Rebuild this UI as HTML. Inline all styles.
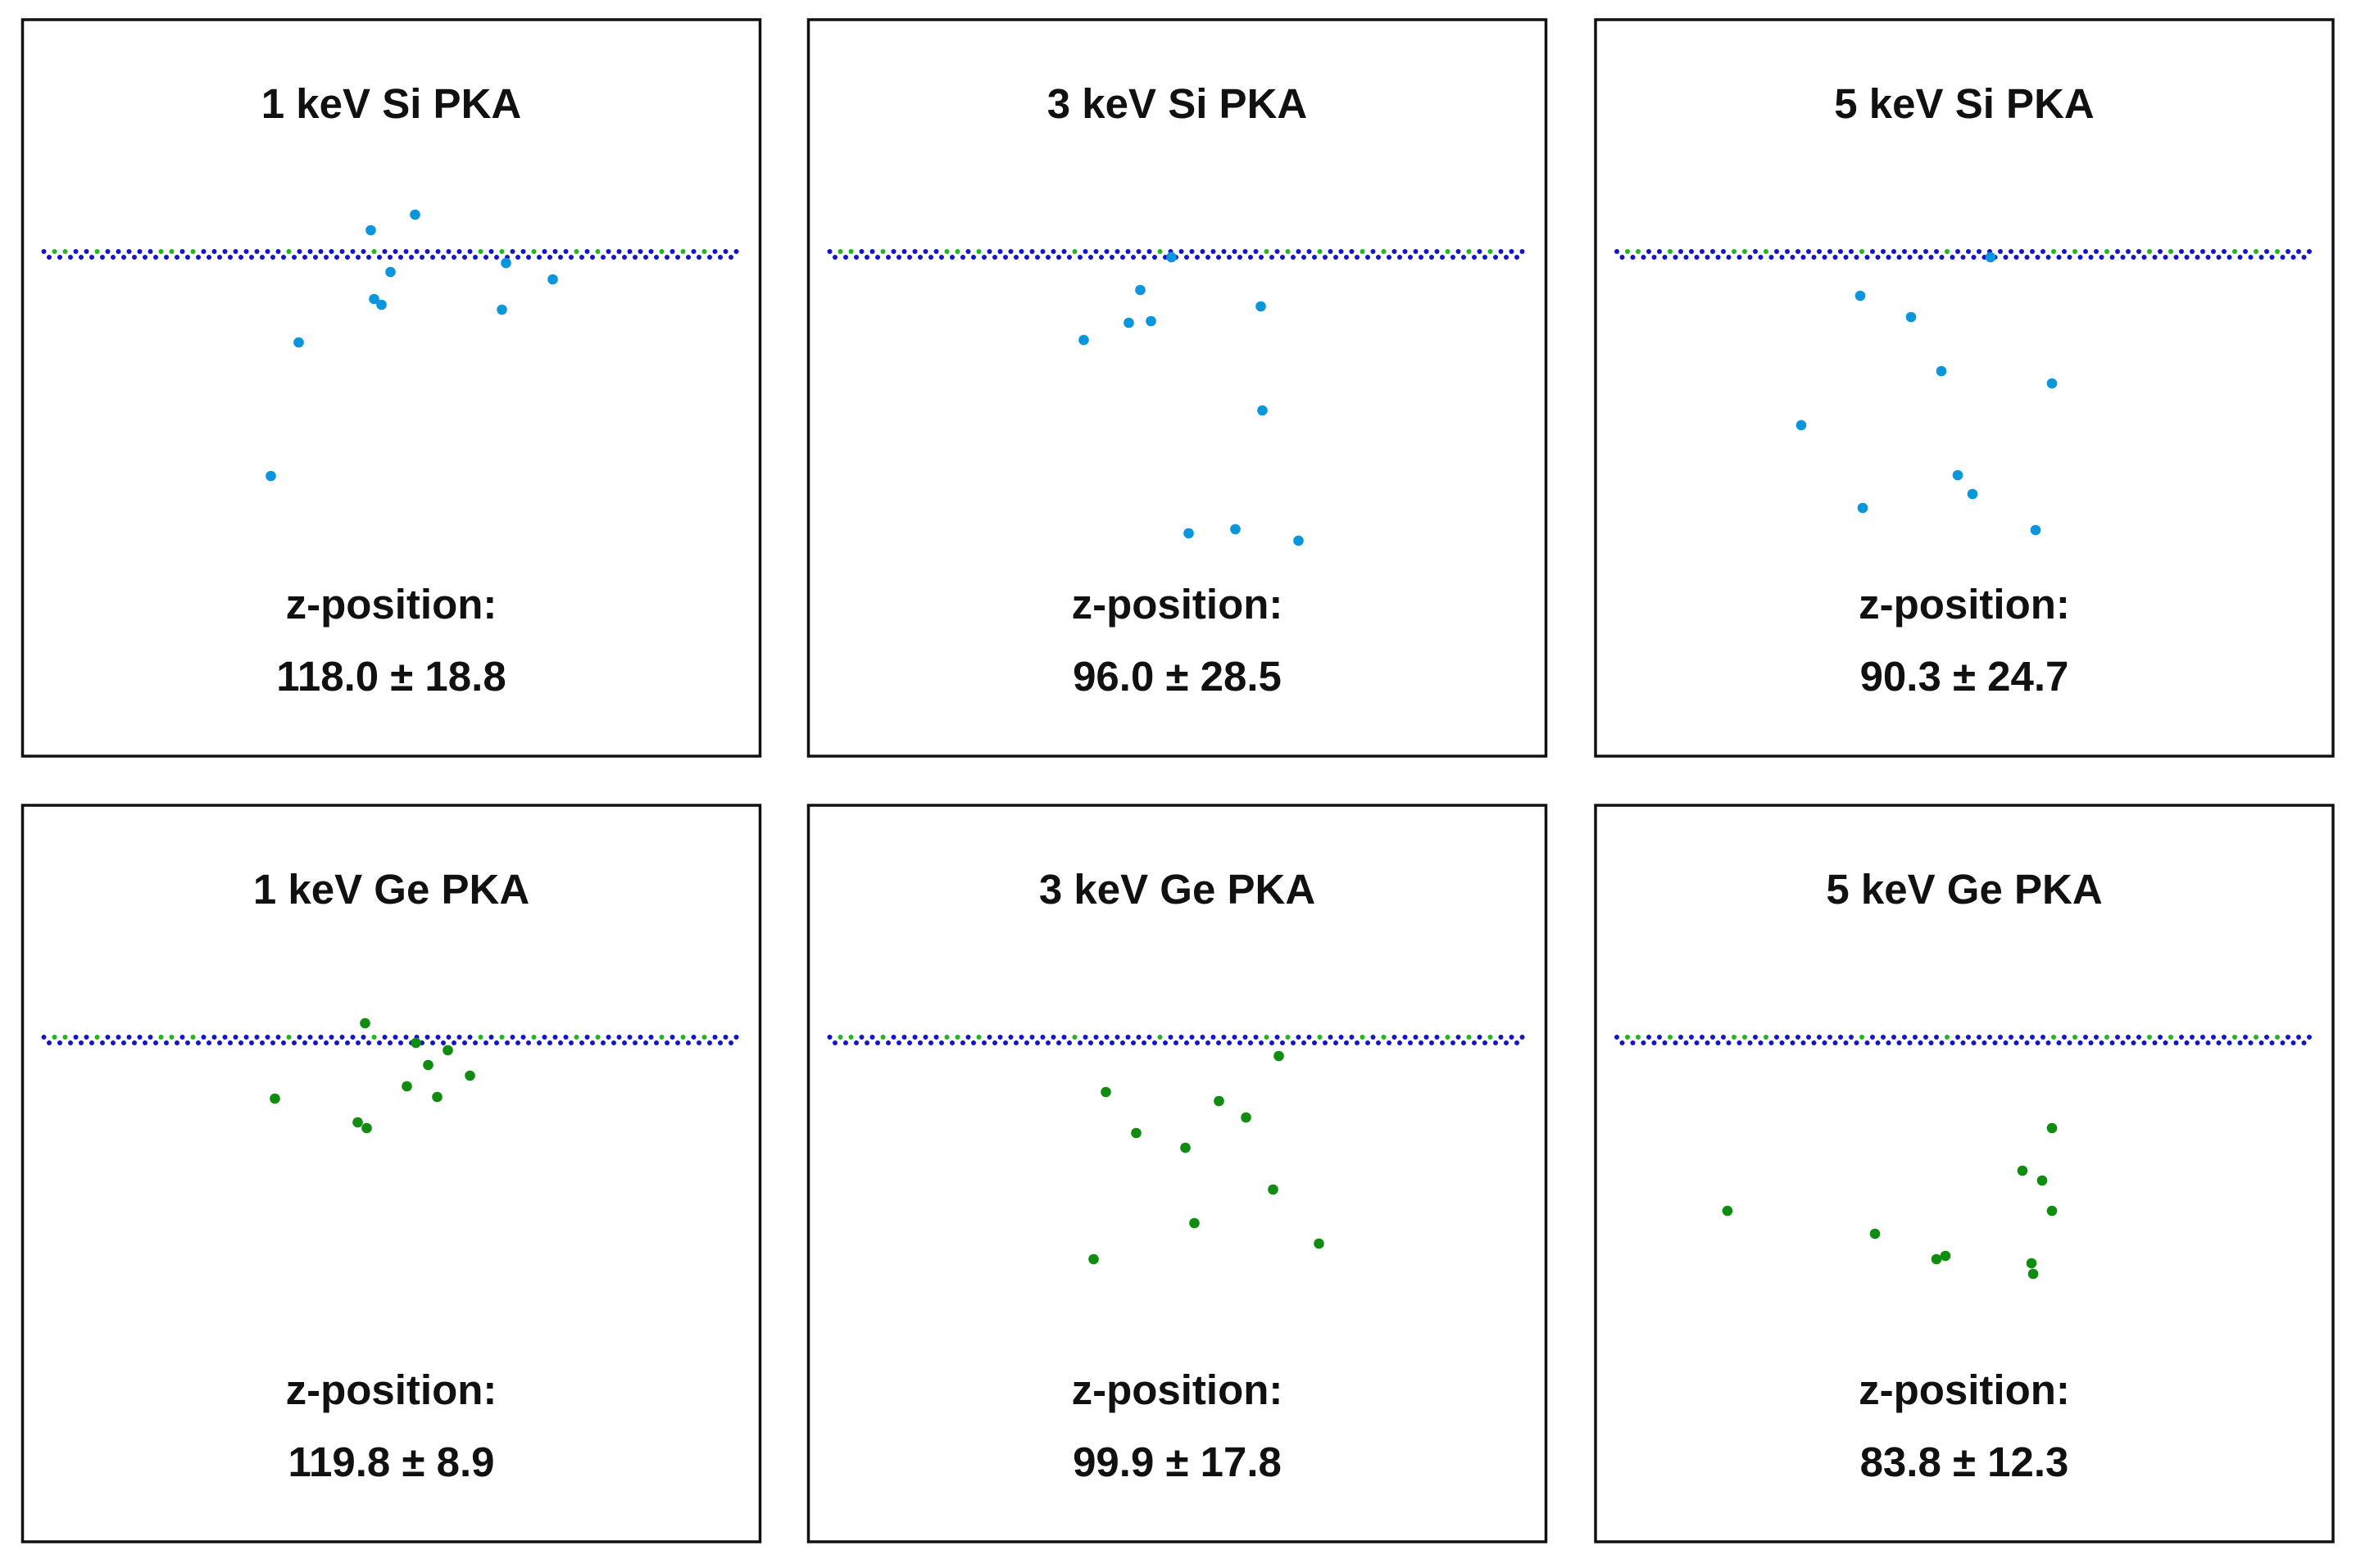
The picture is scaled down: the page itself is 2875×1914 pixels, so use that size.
<!DOCTYPE html>
<html><head><meta charset="utf-8">
<style>
html,body{margin:0;padding:0;background:#fff;}
svg{display:block;}
text{font-family:"Liberation Sans",Arial,sans-serif;font-weight:bold;fill:#111;}
</style></head>
<body>
<svg id="fig" width="2875" height="1914" viewBox="0 0 2875 1914" xmlns="http://www.w3.org/2000/svg"></svg>
<script>
// Panel data (positions in panel-relative units: x across, z = depth)
const titles = ["1 keV Si PKA","3 keV Si PKA","5 keV Si PKA","1 keV Ge PKA","3 keV Ge PKA","5 keV Ge PKA"];
const zValues = ["118.0 ± 18.8","96.0 ± 28.5","90.3 ± 24.7","119.8 ± 8.9","99.9 ± 17.8","83.8 ± 12.3"];
const species = ["Si","Si","Si","Ge","Ge","Ge"];
const p1x = [425,479,449,429,438,337,303,590,585,647];
const p1z = [257,238,308,341,348,394,557,297,354,317];
const p2x = [443,405,391,418,336,552,554,464,521,598];
const p2z = [290,330,370,368,391,350,477,627,622,636];
const p3x = [482,323,385,422,557,251,442,460,326,537];
const p3z = [290,337,363,429,444,495,556,579,596,623];
const p4x = [418,480,519,495,546,469,506,308,409,420];
const p4z = [266,290,299,317,330,343,356,358,387,394];
const p5x = [574,363,501,534,400,460,567,471,623,348];
const p5z = [306,350,361,381,400,418,469,510,535,554];
const p6x = [557,521,545,557,161,341,427,416,532,534];
const p6z = [394,446,458,495,495,523,550,554,559,572];
const xs = [p1x,p2x,p3x,p4x,p5x,p6x];
const zs = [p1z,p2z,p3z,p4z,p5z,p6z];
// lattice green-atom indices (top row)
const greenIdx = [1,2,5,11,12,14,23,31,41,43,46,50,52,58,60,62];

const svg = document.getElementById('fig');
const NS = "http://www.w3.org/2000/svg";
const colLeft = [27.5,986.5,1947];
const rowTop = [24,983];
const PW = 900, PH = 899;
function mk(tag, attrs, parent){const e=document.createElementNS(NS,tag);for(const k in attrs)e.setAttribute(k,attrs[k]);parent.appendChild(e);return e;}
function sx(ox,v){return ox+v;}
function sz(oy,v){return oy+v;}

for(let p=0;p<6;p++){
  const ox = colLeft[p%3], oy = rowTop[Math.floor(p/3)];
  const g = mk('g',{},svg);
  
  
  const r = mk('rect',{x:ox,y:oy,width:PW,height:PH,fill:'#fff',stroke:'#111','stroke-width':3.5},g);
  
  
  const t = mk('text',{x:ox+PW/2,y:oy+120,'text-anchor':'middle','font-size':51},g);
  t.textContent = titles[p];
  
  
  const lat = mk('g',{},g);
  
  
  for(let i=0;i<66;i++){
    const c1 = mk('circle',{cx:ox+26+i*13,cy:oy+283,r:3,fill:greenIdx.includes(i)?'#22b422':'#1414c8'},lat);
    
    
    if(i<65){
      const c2 = mk('circle',{cx:ox+32.5+i*13,cy:oy+290,r:3,fill:'#1414c8'},lat);
      
      
    }
  }
  const col = species[p]==='Si' ? '#0a96dc' : '#108c10';
  for(let k=0;k<xs[p].length;k++){
    const c = mk('circle',{cx:sx(ox,xs[p][k]),cy:sz(oy,zs[p][k]),r:6.3,fill:col},g);
    
    
  }
  const l1 = mk('text',{x:ox+PW/2,y:oy+731,'text-anchor':'middle','font-size':51},g);
  l1.textContent = 'z-position:';
  
  
  const l2 = mk('text',{x:ox+PW/2,y:oy+819,'text-anchor':'middle','font-size':51},g);
  l2.textContent = zValues[p];
  
  
}
</script>
</body></html>
